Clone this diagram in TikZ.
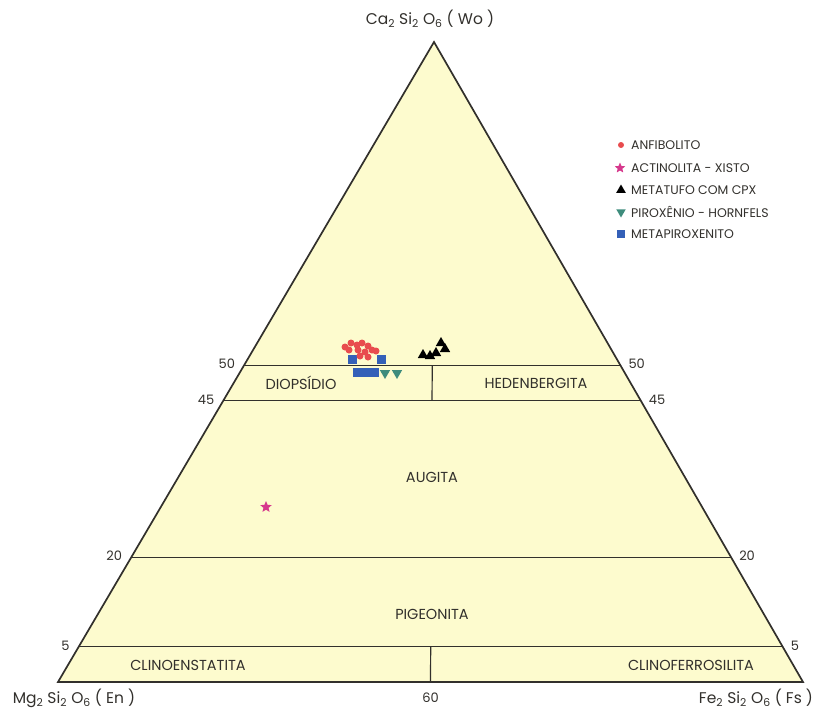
\documentclass[tikz,border=0pt]{standalone}
\usepackage{fontspec}
\setmainfont{Poppins}
\usetikzlibrary{calc,shapes.geometric}

\definecolor{fundo}{RGB}{253,251,206}
\definecolor{tinta}{RGB}{50,48,44}
\definecolor{vermelho}{RGB}{232,76,78}
\definecolor{magenta}{RGB}{214,56,140}
\definecolor{verde}{RGB}{62,140,124}
\definecolor{azul}{RGB}{52,96,184}

\begin{document}
\begin{tikzpicture}[x=1pt,y=-1pt,
   linha/.style={draw=tinta,line width=1.2pt},
   borda/.style={draw=tinta,line width=1.7pt,line join=miter},
   num/.style={font=\fontsize{13}{15}\selectfont,text=tinta,inner sep=0pt},
   campo/.style={font=\fontsize{14.5}{16}\selectfont,text=tinta,inner sep=0pt},
   legenda/.style={font=\fontsize{12.5}{14}\selectfont,text=tinta,inner sep=0pt,anchor=west},
   vertice/.style={font=\fontsize{15.5}{17}\selectfont,text=tinta,inner sep=0pt},
   anfib/.style={circle,fill=vermelho,inner sep=0pt,minimum size=7pt},
   actin/.style={star,star points=5,star point ratio=2.2,fill=magenta,inner sep=0pt,minimum size=12pt},
   metatufo/.style={regular polygon,regular polygon sides=3,fill=black,inner sep=0pt,minimum size=12pt},
   hornfels/.style={regular polygon,regular polygon sides=3,shape border rotate=180,fill=verde,inner sep=0pt,minimum size=12pt},
   metapx/.style={rectangle,fill=azul,inner sep=0pt,minimum size=9pt}]
\useasboundingbox (0,0) rectangle (814,715);

% vertices
\coordinate (Wo) at (434,42);
\coordinate (En) at (58,682);
\coordinate (Fs) at (803,682);
\fill[fundo] (En) -- (Fs) -- (Wo) -- cycle;

% linhas de composicao
\foreach \f/\v in {0.495/50,0.44/45,0.195/20,0.055/5}{
   \draw[linha] ($(En)!\f!(Wo)$) coordinate (e\v) -- ($(Fs)!\f!(Wo)$) coordinate (d\v);
   \node[num,anchor=east] (ne\v) at ([xshift=-9pt,yshift=1pt]e\v) {\v};
   \node[num,anchor=west] (nd\v) at ([xshift=8pt,yshift=1pt]d\v) {\v};
}
\draw[linha] ($(e50)!0.5!(d50)$) -- ($(e45)!0.5!(d45)$);
\draw[linha] ($(e5)!0.5!(d5)$) coordinate (m5) -- ($(En)!0.5!(Fs)$) coordinate (m0);
\draw[borda] (En) -- (Fs) -- (Wo) -- cycle;

% campos
\node[campo] (diop) at (301,383) {DIOPSÍDIO};
\node[campo] (hed) at (536,383) {HEDENBERGITA};
\node[campo] (aug) at (432,477) {AUGITA};
\node[campo] (pig) at (432,614) {PIGEONITA};
\node[campo] (cen) at (188,665) {CLINOENSTATITA};
\node[campo] (cfs) at (691,665) {CLINOFERROSILITA};

% rotulos dos vertices
\node[vertice] (tWo) at (430,19) {Ca\textsubscript{2} Si\textsubscript{2} O\textsubscript{6} ( Wo )};
\node[vertice] (tEn) at (74,698) {Mg\textsubscript{2} Si\textsubscript{2} O\textsubscript{6} ( En )};
\node[vertice] (tFs) at (756,698) {Fe\textsubscript{2} Si\textsubscript{2} O\textsubscript{6} ( Fs )};
\node[num] (t60) at ([yshift=-16pt]m0) {60};

% amostras
\foreach \x/\y [count=\i] in {345/347,351/343,357/345,362/343,368/346,372/350,349/350,358/350,365/352,376/351}
   \node[anfib] (an\i) at (\x,\y) {};
\foreach \x/\y [count=\i] in {352/359,381/359,357/372,366/372,374/372}
   \node[metapx] (mp\i) at (\x,\y) {};
\foreach \x/\y [count=\i] in {360/356,368/357}
   \node[anfib] (an\i b) at (\x,\y) {};
\foreach \x/\y [count=\i] in {385/373,397/373}
   \node[hornfels] (hf\i) at (\x,\y) {};
\foreach \x/\y [count=\i] in {423/355,430/356,436/353,441/343,445/349}
   \node[metatufo] (mt\i) at (\x,\y) {};
\node[actin] (ax1) at (266,507) {};

% legenda
\node[anfib,minimum size=6pt] (lg1) at (621,145) {};
\node[actin,minimum size=11pt] (lg2) at (620,168) {};
\node[metatufo,minimum size=11pt] (lg3) at (621,190) {};
\node[hornfels,minimum size=11pt] (lg4) at (621,212) {};
\node[metapx,minimum size=8pt] (lg5) at (621,234) {};
\node[legenda] (tx1) at (631,145) {ANFIBOLITO};
\node[legenda] (tx2) at (631,168) {ACTINOLITA - XISTO};
\node[legenda] (tx3) at (631,190) {METATUFO COM CPX};
\node[legenda] (tx4) at (631,212) {PIROXÊNIO - HORNFELS};
\node[legenda] (tx5) at (631,234) {METAPIROXENITO};
\end{tikzpicture}
\end{document}
